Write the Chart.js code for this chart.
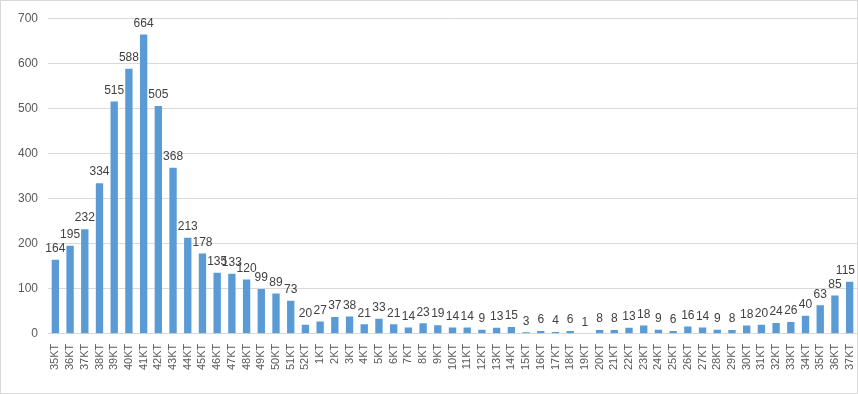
<!DOCTYPE html>
<html>
<head>
<meta charset="utf-8">
<script src="https://cdn.jsdelivr.net/npm/chart.js@4/dist/chart.umd.min.js"></script>
<style>
    html, body { margin: 0; padding: 0; background: #fff; }
    #wrap { width: 856px; height: 392px; border: 1px solid #d9d9d9; position: relative; }
</style>
</head>
<body>
<div id="wrap"><canvas id="chart" width="856" height="392"></canvas></div>
<script>
// categories: 35KT..52KT then 1KT..37KT
const firstRun = ['35KT', '36KT', '37KT', '38KT', '39KT', '40KT', '41KT', '42KT', '43KT', '44KT',
    '45KT', '46KT', '47KT', '48KT', '49KT', '50KT', '51KT', '52KT'];
const secondRun = ['1KT', '2KT', '3KT', '4KT', '5KT', '6KT', '7KT', '8KT', '9KT', '10KT',
    '11KT', '12KT', '13KT', '14KT', '15KT', '16KT', '17KT', '18KT', '19KT', '20KT',
    '21KT', '22KT', '23KT', '24KT', '25KT', '26KT', '27KT', '28KT', '29KT', '30KT',
    '31KT', '32KT', '33KT', '34KT', '35KT', '36KT', '37KT'];
const labels = firstRun.concat(secondRun);

const firstValues = [164, 195, 232, 334, 515, 588, 664, 505, 368, 213, 178, 135, 133, 120, 99, 89, 73, 20];
const secondValues = [27, 37, 38, 21, 33, 21, 14, 23, 19, 14, 14, 9, 13, 15, 3, 6, 4, 6, 1, 8,
    8, 13, 18, 9, 6, 16, 14, 9, 8, 18, 20, 24, 26, 40, 63, 85, 115];
const values = firstValues.concat(secondValues);

const yTicks = [0, 100, 200, 300, 400, 500, 600, 700];

// draws the number above each bar (no datalabels plugin available offline)
const barValues = {
    id: 'barValues',
    afterDatasetsDraw(chart) {
        const ctx = chart.ctx;
        ctx.save();
        ctx.font = '12px "Liberation Sans", Arial, sans-serif';
        ctx.fillStyle = '#404040';
        ctx.textAlign = 'center';
        ctx.textBaseline = 'bottom';
        chart.getDatasetMeta(0).data.forEach((bar, i) => {
            const text = String(values[i]);
            // keep the label inside the canvas, like excel does for the last bar
            const half = ctx.measureText(text).width / 2;
            const x = Math.min(bar.x, chart.width - half - 2);
            ctx.fillText(text, x, bar.y - 5);
        });
        ctx.restore();
    }
};

const ctx = document.getElementById('chart').getContext('2d');
new Chart(ctx, {
    type: 'bar',
    data: {
        labels: labels,
        datasets: [{
            data: values,
            backgroundColor: '#5b9bd5',
            categoryPercentage: 1,
            barPercentage: 0.5
        }]
    },
    options: {
        responsive: false,
        animation: false,
        layout: { padding: { left: 7, right: 0, top: 16, bottom: 21 } },
        plugins: {
            legend: { display: false },
            tooltip: { enabled: false }
        },
        scales: {
            x: {
                afterFit: axis => { axis.paddingRight = 0; axis.paddingLeft = 0; },
                grid: { display: false },
                border: { color: '#d9d9d9' },
                ticks: {
                    color: '#595959',
                    font: { size: 11, family: '"Liberation Sans", Arial, sans-serif' },
                    minRotation: 90,
                    maxRotation: 90,
                    autoSkip: false,
                    padding: 2
                }
            },
            y: {
                min: 0,
                max: 700,
                afterBuildTicks: axis => { axis.ticks = yTicks.map(v => ({ value: v })); },
                grid: { color: '#d9d9d9', drawTicks: false },
                border: { display: false },
                ticks: {
                    color: '#595959',
                    font: { size: 12, family: '"Liberation Sans", Arial, sans-serif' },
                    padding: 10
                }
            }
        }
    },
    plugins: [barValues]
});
</script>
</body>
</html>
